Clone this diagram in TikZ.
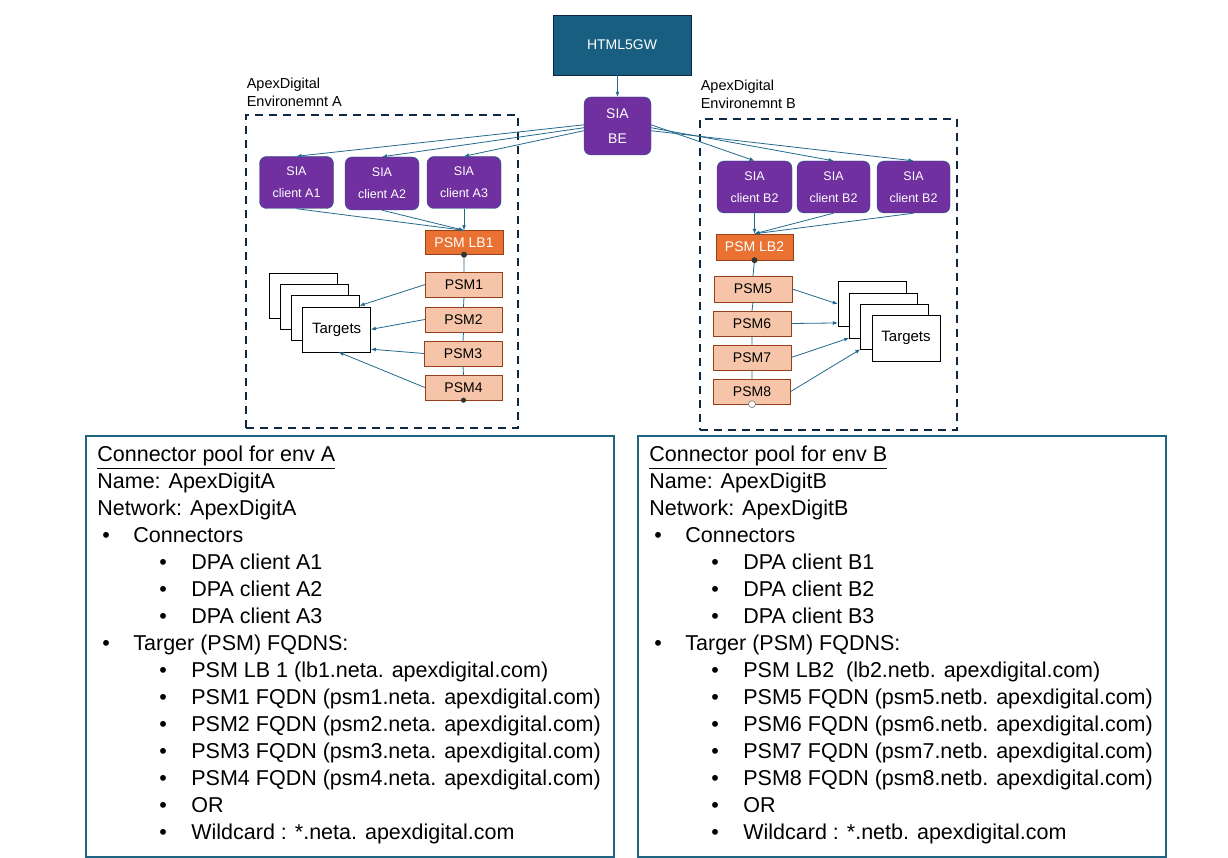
\documentclass[tikz,border=0pt]{standalone}
\usepackage{fontspec}
\setmainfont{Liberation Sans}
\usetikzlibrary{positioning,arrows.meta}
\definecolor{gwteal}{HTML}{185E80}
\definecolor{siapurple}{HTML}{7030A0}
\definecolor{lborange}{HTML}{E97132}
\definecolor{psmpeach}{HTML}{F6C5A9}
\definecolor{psmedge}{HTML}{96401A}
\definecolor{linkblue}{HTML}{22698C}
\definecolor{envnavy}{HTML}{0E2841}
\definecolor{poolteal}{HTML}{1E6483}
\tikzset{gwbox/.style={draw=envnavy,fill=gwteal,text=white,minimum width=138pt,minimum height=60pt,font=\fontsize{14}{17}\selectfont},
siabox/.style={draw=gwteal,fill=siapurple,text=white,rounded corners=7pt,align=center,minimum width=74pt,minimum height=52pt,font=\fontsize{12.5}{22}\selectfont},
lbbox/.style={draw=psmedge,fill=lborange,text=white,minimum width=78pt,minimum height=24pt,font=\fontsize{14}{16}\selectfont},
psmbox/.style={draw=psmedge,fill=psmpeach,minimum width=77pt,minimum height=25pt,font=\fontsize{14}{16}\selectfont},
tgtbox/.style={draw=black,fill=white,minimum width=68pt,minimum height=45pt,font=\fontsize{15}{17}\selectfont},
envbox/.style={draw=envnavy,line width=2.8pt,dash pattern=on 8pt off 6pt},
envlabel/.style={inner sep=0pt,align=left,font=\fontsize{14.5}{18}\selectfont},
poolbox/.style={draw=poolteal,line width=1.6pt,minimum width=528pt,minimum height=421pt},
pooltext/.style={inner sep=0pt,align=left,font=\fontsize{21.5}{27}\selectfont},
link/.style={draw=linkblue,line width=0.8pt,-{Latex[length=5pt,width=4pt]}},
chain/.style={draw=linkblue,line width=0.8pt}}
\newcommand{\bulone}[1]{\hspace*{5pt}\makebox[31pt][l]{•}#1}
\newcommand{\bultwo}[1]{\hspace*{62pt}\makebox[32pt][l]{•}#1}

\begin{document}
\begin{tikzpicture}[x=1pt,y=-1pt]
\useasboundingbox (0,0) rectangle (1228,858);
% gateway and backend
\node[gwbox] (gw) at (622,45) {HTML5GW};
\node[siabox,minimum width=67pt,minimum height=58pt,font=\fontsize{14}{25}\selectfont] (be) at (617.5,126) {SIA\\BE};
\draw[link] (be.north |- gw.south) -- (be.north);
% environment A
\node[envbox,minimum width=272pt,minimum height=313pt] (envA) at (382,271.5) {};
\node[envlabel,above right=7pt and 2pt of envA.north west] (envAlbl) {ApexDigital\\Environemnt A};
\node[siabox] (ca1) at (296.5,182.5) {SIA\\client A1};
\node[siabox,minimum height=53pt] (ca2) at (382,183.5) {SIA\\client A2};
\node[siabox] (ca3) at (464,182.5) {SIA\\client A3};
\node[lbbox] (lb1) at (464,242.5) {PSM LB1};
\node[psmbox] (psm1) at (464,284.5) {PSM1};
\node[psmbox] (psm2) at (463.5,319.5) {PSM2};
\node[psmbox,minimum width=78pt] (psm3) at (463,353.5) {PSM3};
\node[psmbox] (psm4) at (463.5,387.5) {PSM4};
\node[tgtbox] (tgtA1) at (303,295.5) {};
\node[tgtbox] (tgtA2) at (314.2,306.8) {};
\node[tgtbox] (tgtA3) at (325.4,318.1) {};
\node[tgtbox] (tgtA4) at (336.6,329.4) {Targets};
\draw[link] (be.178) -- (ca1.north);
\draw[link] (be.183) -- (ca2.north);
\draw[link] (be.188) -- (ca3.north);
\foreach \c in {ca1,ca2,ca3} \draw[link] (\c.south) -- (lb1.north);
\draw[chain] (lb1.south) -- (psm1.north) (psm1.south) -- (psm2.north) (psm2.south) -- (psm3.north) (psm3.south) -- (psm4.north);
\fill[black!80] (lb1.south) circle (3pt) (psm4.south) circle (2.6pt);
\draw[link] (psm1.west) -- (tgtA3.20);
\draw[link] (psm2.west) -- (tgtA4.east);
\draw[link] (psm3.west) -- (tgtA4.-30);
\draw[link] (psm4.west) -- (tgtA4.-85);
% environment B
\node[envbox,minimum width=257pt,minimum height=311pt] (envB) at (828.5,274.5) {};
\node[envlabel,above right=9pt and 2pt of envB.north west] (envBlbl) {ApexDigital\\Environemnt B};
\node[siabox,minimum width=75pt] (cb1) at (754.5,187) {SIA\\client B2};
\node[siabox,minimum width=73pt] (cb2) at (833.5,187) {SIA\\client B2};
\node[siabox,minimum width=73pt] (cb3) at (913.5,187) {SIA\\client B2};
\node[lbbox,minimum width=77pt,minimum height=26pt] (lb2) at (754.5,247) {PSM LB2};
\node[psmbox,minimum width=78pt,minimum height=26pt] (psm5) at (753,289) {PSM5};
\node[psmbox,minimum width=78pt] (psm6) at (752,323.5) {PSM6};
\node[psmbox,minimum width=78pt] (psm7) at (752,357.5) {PSM7};
\node[psmbox] (psm8) at (752,391.5) {PSM8};
\node[tgtbox] (tgtB1) at (872,304) {};
\node[tgtbox] (tgtB2) at (883.3,315.3) {};
\node[tgtbox] (tgtB3) at (894.6,326.6) {};
\node[tgtbox,minimum height=46pt] (tgtB4) at (906,338) {Targets};
\draw[link] (be.2) -- (cb1.north);
\draw[link] (be.-3) -- (cb2.north);
\draw[link] (be.-8) -- (cb3.north);
\foreach \c in {cb1,cb2,cb3} \draw[link] (\c.south) -- (lb2.north);
\draw[chain] (lb2.south) -- (psm5.north) (psm5.south) -- (psm6.north) (psm6.south) -- (psm7.north) (psm7.south) -- (psm8.north);
\fill[black!80] (lb2.south) circle (3pt);
\draw[black!70,fill=white] (psm8.south) circle (3.5pt);
\draw[link] (psm5.east) -- (tgtB1.west);
\draw[link] (psm6.east) -- (tgtB1.209);
\draw[link] (psm7.east) -- (tgtB2.south west);
\draw[link] (psm8.east) -- (tgtB3.south west);
% connector pools
\node[poolbox] (poolA) at (350,646.5) {};
\node[pooltext,below right=11pt and 12pt of poolA.north west] (poolAtxt) {\underline{Connector pool for env A}\\
Name: ApexDigitA\\
Network: ApexDigitA\\
\bulone{Connectors}\\
\bultwo{DPA client A1}\\
\bultwo{DPA client A2}\\
\bultwo{DPA client A3}\\
\bulone{Targer (PSM) FQDNS:}\\
\bultwo{PSM LB 1 (lb1.neta. apexdigital.com)}\\
\bultwo{PSM1 FQDN (psm1.neta. apexdigital.com)}\\
\bultwo{PSM2 FQDN (psm2.neta. apexdigital.com)}\\
\bultwo{PSM3 FQDN (psm3.neta. apexdigital.com)}\\
\bultwo{PSM4 FQDN (psm4.neta. apexdigital.com)}\\
\bultwo{OR}\\
\bultwo{Wildcard : *.neta. apexdigital.com}};
\node[poolbox] (poolB) at (902,646.5) {};
\node[pooltext,below right=11pt and 12pt of poolB.north west] (poolBtxt) {\underline{Connector pool for env B}\\
Name: ApexDigitB\\
Network: ApexDigitB\\
\bulone{Connectors}\\
\bultwo{DPA client B1}\\
\bultwo{DPA client B2}\\
\bultwo{DPA client B3}\\
\bulone{Targer (PSM) FQDNS:}\\
\bultwo{PSM LB2~~(lb2.netb. apexdigital.com)}\\
\bultwo{PSM5 FQDN (psm5.netb. apexdigital.com)}\\
\bultwo{PSM6 FQDN (psm6.netb. apexdigital.com)}\\
\bultwo{PSM7 FQDN (psm7.netb. apexdigital.com)}\\
\bultwo{PSM8 FQDN (psm8.netb. apexdigital.com)}\\
\bultwo{OR}\\
\bultwo{Wildcard : *.netb. apexdigital.com}};
\end{tikzpicture}
\end{document}
